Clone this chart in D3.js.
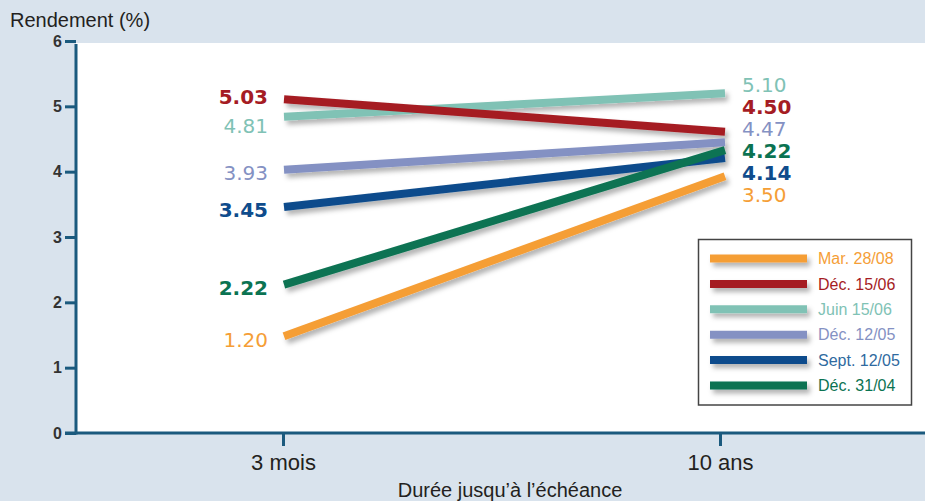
<!DOCTYPE html>
<html><head><meta charset="utf-8">
<script src="https://cdn.jsdelivr.net/npm/d3@7"></script>
<style>
html,body{margin:0;padding:0;background:#d9e3ed;}
svg{display:block;font-family:"Liberation Sans",Arial,sans-serif;}
</style></head>
<body>
<svg id="c" width="925" height="501"></svg>
<script>
// ---- data ----
const categories = ["3 mois", "10 ans"];
const series = ["Mar. 28/08", "Déc. 15/06", "Juin 15/06", "Déc. 12/05", "Sept. 12/05", "Déc. 31/04"];
const colors = ["#f59e36", "#a51c24", "#80c2b5", "#8491c3", "#0f4c8c", "#0b7352"];
const legendTextColors = ["#f59e36", "#a51c24", "#80c2b5", "#8491c3", "#2f6aa0", "#0b7352"];
const boldLabels = [false, true, false, false, true, true];
// values printed as labels
const labels3m = [1.20, 5.03, 4.81, 3.93, 3.45, 2.22];
const labels10y = [3.50, 4.50, 5.10, 4.47, 4.14, 4.22];
// line end values as drawn in the picture
const drawn3m = [1.48, 5.11, 4.84, 4.03, 3.46, 2.27];
const drawn10y = [3.93, 4.61, 5.20, 4.45, 4.21, 4.33];
const yTicks = [0, 1, 2, 3, 4, 5, 6];
const drawOrder = [2, 3, 4, 5, 1, 0];

(function () {
const svg = d3.select("#c");
const W = 925, H = 501;
const pL = 76, pR = 925, pT = 43, pB = 433;
const labelFont = "'DejaVu Sans','Liberation Sans',sans-serif";

const y = d3.scaleLinear().domain([0, 6]).range([pB, 41]);
const x = d3.scalePoint().domain(categories).range([283, 720]);

// filter
const defs = svg.append("defs");
const f = defs.append("filter").attr("id", "sh").attr("x", "-20%").attr("y", "-100%").attr("width", "140%").attr("height", "300%");
f.append("feDropShadow").attr("dx", 3).attr("dy", 4).attr("stdDeviation", 2.5)
  .attr("flood-color", "#000").attr("flood-opacity", 0.3);

// background
svg.append("rect").attr("width", W).attr("height", H).attr("fill", "#d9e3ed");
svg.append("rect").attr("x", pL).attr("y", pT).attr("width", pR - pL).attr("height", pB - pT).attr("fill", "#ffffff");

// y title
svg.append("text").attr("x", 10).attr("y", 27).attr("font-size", 20).attr("fill", "#231f20").text("Rendement (%)");

// y axis
const axisColor = "#1b5a7e";
const yAx = svg.append("g").attr("transform", `translate(${pL},0)`)
  .call(d3.axisLeft(y).tickValues(yTicks).tickSize(11).tickPadding(3).tickFormat(d3.format("d")));
yAx.select(".domain").remove();
yAx.selectAll(".tick line").attr("stroke", axisColor).attr("stroke-width", 3);
yAx.selectAll(".tick text").attr("font-size", 16).attr("font-weight", "bold").attr("fill", "#333")
  .attr("font-family", "'Liberation Sans',Arial,sans-serif");
svg.append("line").attr("x1", pL).attr("x2", pL).attr("y1", 44).attr("y2", pB + 1.5)
  .attr("stroke", axisColor).attr("stroke-width", 3);

// x axis
const xAx = svg.append("g").attr("transform", `translate(0,${pB})`)
  .call(d3.axisBottom(x).tickSize(13).tickPadding(8));
xAx.select(".domain").remove();
xAx.selectAll(".tick line").attr("stroke", axisColor).attr("stroke-width", 3);
xAx.selectAll(".tick text").attr("font-size", 22).attr("fill", "#231f20")
  .attr("font-family", "'Liberation Sans',Arial,sans-serif");
svg.append("line").attr("x1", pL - 11).attr("x2", pR).attr("y1", pB).attr("y2", pB)
  .attr("stroke", axisColor).attr("stroke-width", 3);

svg.append("text").attr("x", 510).attr("y", 497).attr("text-anchor", "middle").attr("font-size", 20)
  .attr("fill", "#231f20").text("Durée jusqu’à l’échéance");

// lines
const gL = svg.append("g").attr("filter", "url(#sh)");
drawOrder.forEach(i => {
  gL.append("line")
    .attr("x1", x(categories[0]) + 1).attr("y1", y(drawn3m[i]))
    .attr("x2", x(categories[1]) + 5).attr("y2", y(drawn10y[i]))
    .attr("stroke", colors[i]).attr("stroke-width", 8);
});

// left labels: at line start, spread to avoid overlap
const lItems = series.map((s, i) => ({ i, y: y(drawn3m[i]) + 3 }));
lItems.sort((a, b) => a.y - b.y);
for (let it = 0; it < 20; it++) {
  for (let k = 1; k < lItems.length; k++) {
    const gap = lItems[k].y - lItems[k - 1].y;
    if (gap < 29) { const d = (29 - gap) / 2; lItems[k].y += d; lItems[k - 1].y -= d; }
  }
}
lItems.forEach(o => {
  svg.append("text").attr("x", 268).attr("y", o.y).attr("dy", "0.36em").attr("text-anchor", "end")
    .attr("font-family", labelFont)
    .attr("font-size", 20).attr("font-weight", boldLabels[o.i] ? "bold" : "normal")
    .attr("fill", colors[o.i]).text(labels3m[o.i].toFixed(2));
});

// right labels: stacked in descending order
const rOrder = series.map((s, i) => i).sort((a, b) => labels10y[b] - labels10y[a]);
const rStart = y(d3.max(drawn10y)) - 8;
rOrder.forEach((i, k) => {
  svg.append("text").attr("x", 742).attr("y", rStart + k * 22).attr("dy", "0.36em")
    .attr("font-family", labelFont)
    .attr("font-size", 20).attr("font-weight", boldLabels[i] ? "bold" : "normal")
    .attr("fill", colors[i]).text(labels10y[i].toFixed(2));
});

// legend
const lg = svg.append("g");
lg.append("rect").attr("x", 698.5).attr("y", 239.5).attr("width", 213).attr("height", 165.5)
  .attr("fill", "#fff").attr("stroke", "#444").attr("stroke-width", 1.5);
const lgLines = lg.append("g").attr("filter", "url(#sh)");
series.forEach((s, i) => {
  const yy = 258.5 + i * 25.4;
  lgLines.append("line").attr("x1", 710).attr("x2", 807).attr("y1", yy).attr("y2", yy)
    .attr("stroke", colors[i]).attr("stroke-width", 8);
  lg.append("text").attr("x", 818).attr("y", yy).attr("dy", "0.36em").attr("font-size", 16)
    .attr("fill", legendTextColors[i]).text(s);
});
})();
</script>
</body></html>
